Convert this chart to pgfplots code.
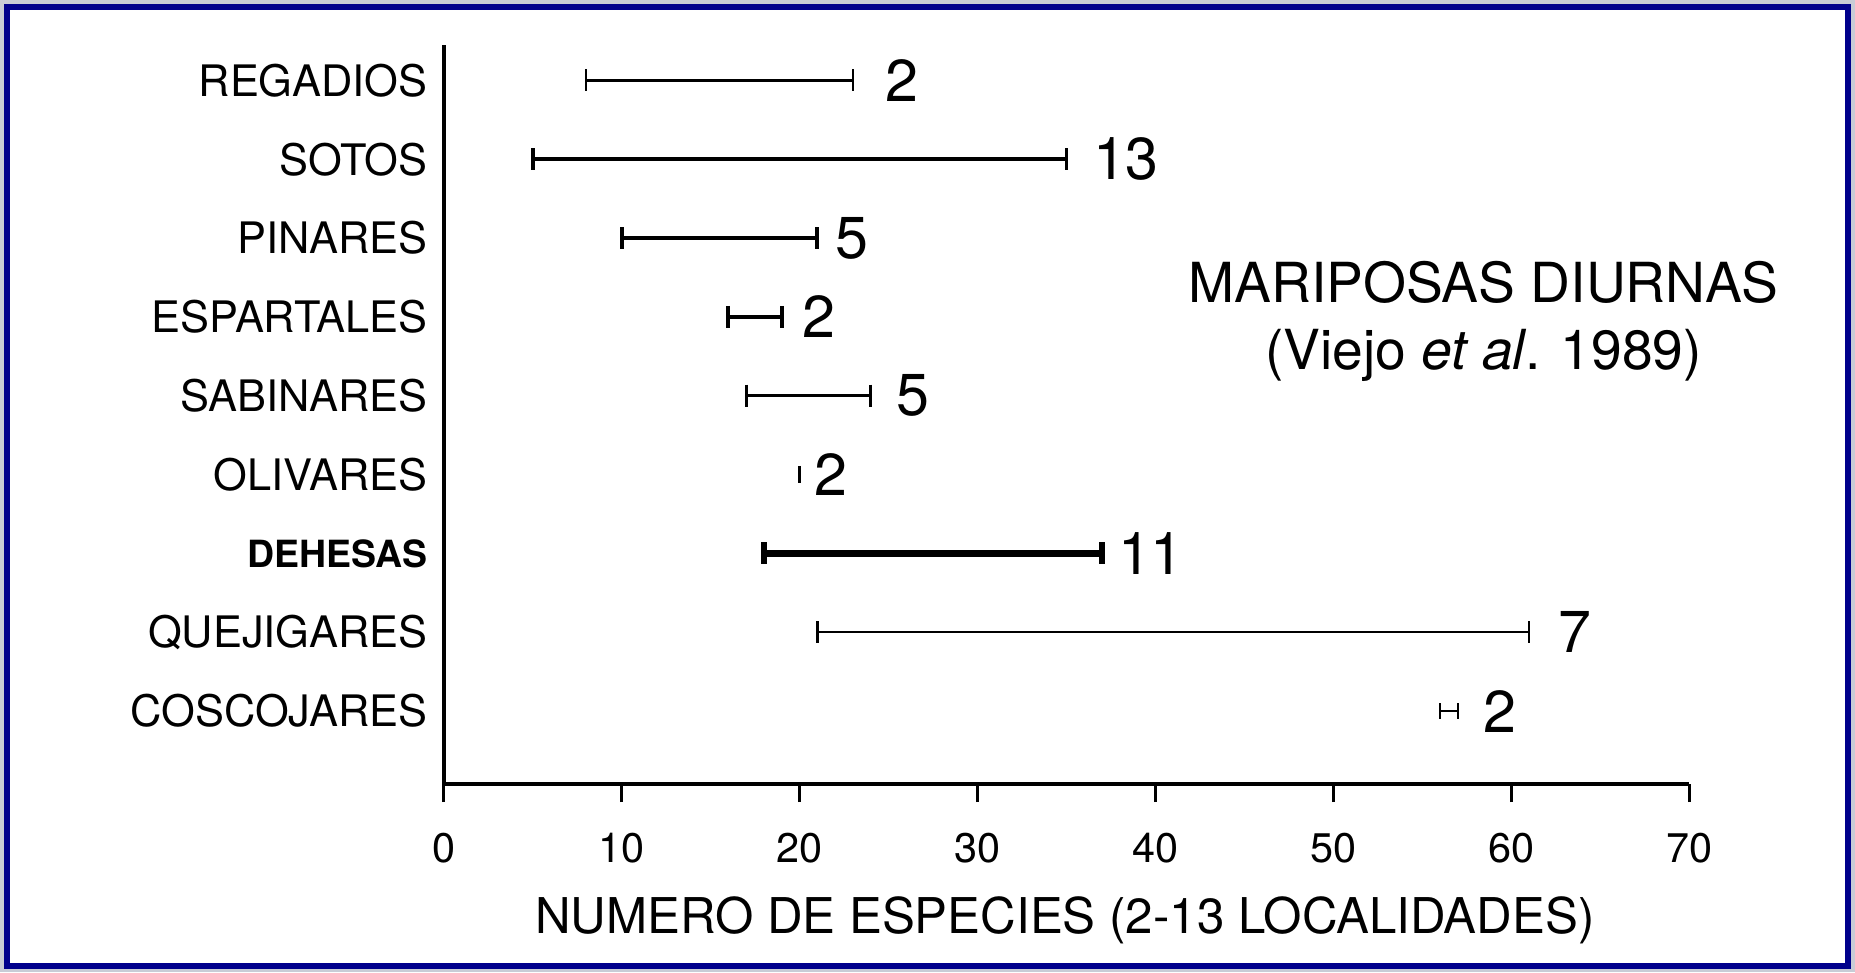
\documentclass[border=0pt]{standalone}
\usepackage{fontspec}
\setmainfont{TeX Gyre Heros}
\usepackage{pgfplots}
\pgfplotsset{compat=1.18}
\definecolor{frameblue}{RGB}{0,0,140}
\definecolor{framegray}{RGB}{200,204,214}

% value labels (number of localities) at the right end of each range
\pgfplotstableread{
x     y  lab
24.8  9  2
36.45 8  13
22.0  7  5
20.1  6  2
25.4  5  5
20.8  4  2
37.85 3  11
62.6  2  7
58.4  1  2
}\labtab

\begin{document}
\begin{tikzpicture}
\useasboundingbox (0,0) rectangle (470.4pt,246.6pt);
\begin{axis}[
  at={(112.5pt,47.7pt)}, anchor=south west,
  scale only axis, width=315.9pt, height=187.5pt,
  xmin=0, xmax=70, ymin=0.07, ymax=9.45,
  axis lines*=left,
  axis line style={line width=1pt, black},
  clip=false,
  xtick={0,10,...,70},
  tick align=outside, major tick length=4.5pt,
  x tick style={line width=0.6pt, black},
  ytick={1,...,9},
  y tick style={draw=none},
  yticklabels={COSCOJARES,QUEJIGARES,{\fontsize{9.5}{11}\bfseries DEHESAS},OLIVARES,SABINARES,ESPARTALES,PINARES,SOTOS,REGADIOS},
  yticklabel style={font=\fontsize{11}{13}\selectfont, anchor=east, inner sep=0pt, xshift=0.6pt},
  /pgf/number format/assume math mode=true,
  xticklabel style={font=\fontsize{10.5}{12}\selectfont, anchor=center, yshift=-11.7pt},
  xlabel={NUMERO DE ESPECIES (2-13 LOCALIDADES)},
  xlabel style={at={(axis description cs:0.4986,0)}, anchor=center, yshift=-34.5pt, font=\fontsize{12.5}{14}\selectfont},
  rng/.style={black, mark=|, mark size=2.8pt, mark options={solid}},
]
\addplot[rng, line width=0.6pt] coordinates {(8,9) (23,9)};
\addplot[rng, line width=1.0pt] coordinates {(5,8) (35,8)};
\addplot[rng, line width=1.0pt] coordinates {(10,7) (21,7)};
\addplot[rng, line width=1.0pt] coordinates {(16,6) (19,6)};
\addplot[rng, line width=0.8pt] coordinates {(17,5) (24,5)};
\addplot[rng, line width=0.6pt, mark size=2.2pt] coordinates {(20,4)};
\addplot[rng, line width=1.6pt] coordinates {(18,3) (37,3)};
\addplot[rng, line width=0.6pt] coordinates {(21,2) (61,2)};
\addplot[rng, line width=0.6pt, mark size=2.0pt] coordinates {(56,1) (57,1)};
\addplot[only marks, mark=none, nodes near coords, point meta=explicit symbolic,
  nodes near coords style={anchor=west, inner sep=0pt, font=\fontsize{15}{17}\selectfont, black}]
  table[x=x, y=y, meta=lab] {\labtab};
\end{axis}
\node[align=center, font=\fontsize{14}{17}\selectfont] at (376.2pt,165.2pt)
  {MARIPOSAS DIURNAS\\(Viejo \textit{et al}. 1989)};
\draw[framegray, line width=0.9pt] (0.45pt,0.45pt) rectangle (469.95pt,246.15pt);
\draw[frameblue, line width=1.6pt] (1.7pt,1.7pt) rectangle (468.7pt,244.9pt);
\end{tikzpicture}
\end{document}
